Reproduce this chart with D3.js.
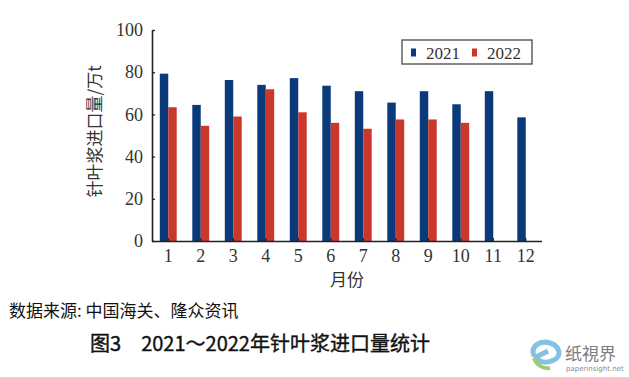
<!DOCTYPE html>
<html>
<head>
<meta charset="utf-8">
<script src="https://cdn.jsdelivr.net/npm/d3@7"></script>
<style>
  body { margin: 0; background: #fff; }
  svg { display: block; }
</style>
</head>
<body>
<script>
// data
const months = ['1', '2', '3', '4', '5', '6', '7', '8', '9', '10', '11', '12'];
const seriesNames = ['2021', '2022'];
const values2021 = [79.3, 64.5, 76.3, 74, 77.2, 73.6, 71, 65.6, 71, 64.8, 71, 58.6];
const values2022 = [63.4, 54.6, 59, 71.9, 61, 56, 53.2, 57.6, 57.6, 56, null, null];
const yTicks = [0, 20, 40, 60, 80, 100];
const colors = ['#0b3a7b', '#c9382b'];

const W = 629, H = 377;
const margin = { top: 30, right: 87, bottom: 136, left: 152 };
const width = W - margin.left - margin.right;
const height = H - margin.top - margin.bottom;
const serif = '"Liberation Serif", "DejaVu Serif", serif';
const cjk = '"Noto Sans CJK SC", sans-serif';

const svg = d3.select('body').append('svg')
  .attr('width', W)
  .attr('height', H);

const g = svg.append('g')
  .attr('transform', `translate(${margin.left}, ${margin.top})`);

const x = d3.scaleBand().domain(months).range([0, width]).paddingInner(0.48).paddingOuter(0.24);
const x1 = d3.scaleBand().domain(seriesNames).range([0, x.bandwidth()]);
const y = d3.scaleLinear().domain([0, 100]).range([height, 0]);

const rows = months.map((m, i) => ({ month: m, vals: [values2021[i], values2022[i]] }));

// bars
g.selectAll('.grp')
  .data(rows)
  .enter()
  .append('g')
  .attr('transform', d => `translate(${x(d.month)}, 0)`)
  .selectAll('rect')
  .data(d => d.vals.map((v, k) => ({ v, k })).filter(e => e.v != null))
  .enter()
  .append('rect')
  .attr('x', e => x1(seriesNames[e.k]))
  .attr('width', x1.bandwidth())
  .attr('y', e => y(e.v))
  .attr('height', e => y(0) - y(e.v))
  .attr('fill', e => colors[e.k]);

// axes
const yAxis = d3.axisLeft(y).tickValues(yTicks).tickSizeInner(-3).tickSizeOuter(0).tickPadding(9);
const xAxis = d3.axisBottom(x).tickSizeInner(-3).tickSizeOuter(0).tickPadding(8);

const ya = g.append('g').call(yAxis);
const xa = g.append('g').attr('transform', `translate(0, ${height})`).call(xAxis);

[ya, xa].forEach(a => {
  a.select('.domain').attr('stroke', '#222').attr('stroke-width', 1.6);
  a.selectAll('.tick line').attr('stroke', '#222').attr('stroke-width', 1.3);
  a.selectAll('text').attr('font-family', serif).attr('font-size', 18).attr('fill', '#333');
});
xa.select('.domain').attr('d', `M0,0.5H${width}`);

// axis titles
svg.append('text')
  .attr('transform', `translate(101, ${margin.top + height / 2 - 4}) rotate(-90)`)
  .attr('text-anchor', 'middle')
  .attr('font-family', cjk)
  .attr('font-size', 17)
  .attr('fill', '#333')
  .text('针叶浆进口量/万t');

svg.append('text')
  .attr('x', margin.left + width / 2)
  .attr('y', 286)
  .attr('text-anchor', 'middle')
  .attr('font-family', cjk)
  .attr('font-size', 17)
  .attr('fill', '#333')
  .text('月份');

// legend
const lg = svg.append('g');
lg.append('rect')
  .attr('x', 402).attr('y', 40).attr('width', 130).attr('height', 24)
  .attr('fill', '#fff').attr('stroke', '#555').attr('stroke-width', 1.4);
const legX = [411, 472];
seriesNames.forEach((s, k) => {
  lg.append('rect')
    .attr('x', legX[k]).attr('y', 48.5).attr('width', 5).attr('height', 8)
    .attr('fill', colors[k]);
  lg.append('text')
    .attr('x', legX[k] + 15).attr('y', 58.5)
    .attr('font-family', serif).attr('font-size', 17).attr('fill', '#333')
    .text(s);
});

// source and caption
svg.append('text')
  .attr('x', 9).attr('y', 317)
  .attr('font-family', cjk).attr('font-size', 17).attr('fill', '#111')
  .text('数据来源: 中国海关、隆众资讯');

svg.append('text')
  .attr('x', 260).attr('y', 351)
  .attr('text-anchor', 'middle')
  .attr('font-family', cjk).attr('font-size', 20).attr('fill', '#111')
  .attr('stroke', '#111').attr('stroke-width', 0.4)
  .text('图3\u30002021～2022年针叶浆进口量统计');

// watermark
const wm = svg.append('g').attr('opacity', 0.85);
wm.append('path')
  .attr('d', 'M534,356 C530,346 540,340 550,343 C560,346 562,356 554,360 C546,364 538,362 536,357 L548,351')
  .attr('fill', 'none').attr('stroke', '#6fb7de').attr('stroke-width', 5);
wm.append('path')
  .attr('d', 'M534,358 C537,366 544,369 550,368')
  .attr('fill', 'none').attr('stroke', '#8cc55a').attr('stroke-width', 4);
wm.append('text')
  .attr('x', 565).attr('y', 360)
  .attr('font-family', cjk).attr('font-size', 17).attr('fill', '#666')
  .text('纸視界');
wm.append('text')
  .attr('x', 566).attr('y', 371)
  .attr('font-family', '"DejaVu Sans", sans-serif').attr('font-size', 7).attr('fill', '#777')
  .text('paperinsight.net');
</script>
</body>
</html>
